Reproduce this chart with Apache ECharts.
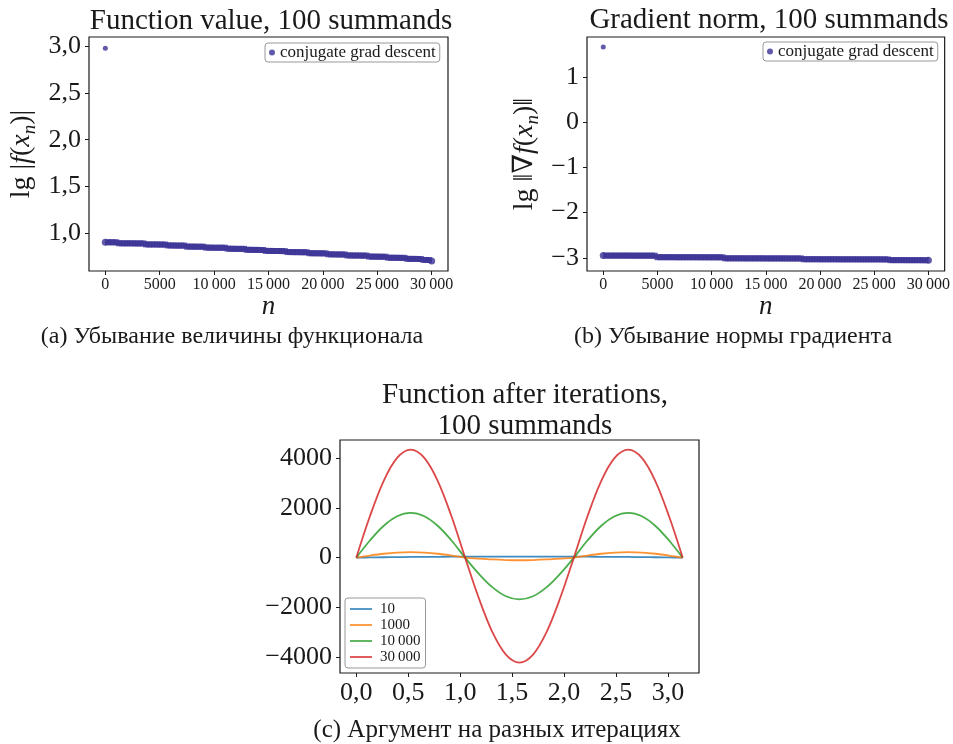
<!DOCTYPE html>
<html><head><meta charset="utf-8">
<script src="https://cdn.jsdelivr.net/npm/echarts@6/dist/echarts.min.js"></script>
<style>html,body{margin:0;padding:0;background:#fff}#c{width:953px;height:744px}</style>
</head><body><div id="c"></div>
<script>
// ---------- data ----------
var seriesName = 'conjugate grad descent';
var bandN = [0,250,500,750,1000,1250,1500,1750,2000,2250,2500,2750,3000,3250,3500,3750,4000,4250,4500,4750,5000,5250,5500,5750,6000,6250,6500,6750,7000,7250,7500,7750,8000,8250,8500,8750,9000,9250,9500,9750,10000,10250,10500,10750,11000,11250,11500,11750,12000,12250,12500,12750,13000,13250,13500,13750,14000,14250,14500,14750,15000,15250,15500,15750,16000,16250,16500,16750,17000,17250,17500,17750,18000,18250,18500,18750,19000,19250,19500,19750,20000,20250,20500,20750,21000,21250,21500,21750,22000,22250,22500,22750,23000,23250,23500,23750,24000,24250,24500,24750,25000,25250,25500,25750,26000,26250,26500,26750,27000,27250,27500,27750,28000,28250,28500,28750,29000,29250,29500,29750,30000];
// (a) lg|f(x_n)|
var funcFirst = 2.975;
var funcBand = [0.907,0.907,0.906,0.906,0.906,0.896,0.895,0.895,0.895,0.895,0.895,0.894,0.894,0.894,0.894,0.884,0.883,0.883,0.883,0.883,0.882,0.882,0.882,0.873,0.872,0.872,0.871,0.871,0.871,0.871,0.860,0.860,0.860,0.859,0.859,0.859,0.859,0.850,0.849,0.849,0.848,0.848,0.848,0.848,0.848,0.838,0.837,0.837,0.836,0.836,0.836,0.836,0.826,0.826,0.825,0.825,0.825,0.824,0.824,0.815,0.814,0.814,0.813,0.813,0.813,0.812,0.812,0.802,0.802,0.801,0.801,0.801,0.800,0.800,0.800,0.790,0.789,0.789,0.789,0.788,0.788,0.788,0.778,0.778,0.777,0.777,0.776,0.776,0.776,0.766,0.766,0.765,0.765,0.765,0.764,0.764,0.764,0.754,0.753,0.753,0.753,0.752,0.752,0.752,0.742,0.741,0.741,0.741,0.740,0.740,0.740,0.730,0.729,0.729,0.729,0.728,0.728,0.718,0.717,0.717,0.707];
// (b) lg||grad f(x_n)||
var gradFirst = 1.66;
var gradBand = [-2.950,-2.950,-2.950,-2.950,-2.950,-2.950,-2.950,-2.950,-2.950,-2.950,-2.951,-2.951,-2.951,-2.951,-2.951,-2.951,-2.951,-2.951,-2.951,-2.952,-2.985,-2.985,-2.985,-2.985,-2.985,-2.985,-2.985,-2.986,-2.986,-2.986,-2.986,-2.986,-2.986,-2.986,-2.986,-2.987,-2.987,-2.987,-2.987,-2.987,-2.987,-2.987,-2.987,-2.988,-2.988,-3.010,-3.010,-3.010,-3.010,-3.010,-3.010,-3.010,-3.011,-3.011,-3.011,-3.011,-3.011,-3.011,-3.011,-3.011,-3.012,-3.012,-3.012,-3.012,-3.012,-3.012,-3.012,-3.012,-3.013,-3.013,-3.013,-3.013,-3.013,-3.013,-3.030,-3.030,-3.030,-3.030,-3.030,-3.030,-3.031,-3.031,-3.031,-3.031,-3.031,-3.031,-3.031,-3.032,-3.032,-3.032,-3.032,-3.032,-3.032,-3.032,-3.033,-3.033,-3.033,-3.033,-3.033,-3.033,-3.033,-3.033,-3.033,-3.034,-3.034,-3.034,-3.050,-3.050,-3.050,-3.050,-3.050,-3.050,-3.051,-3.051,-3.051,-3.051,-3.051,-3.051,-3.052,-3.052,-3.052];
// (c) function after iterations
var argX = [0,0.1309,0.2618,0.3927,0.5236,0.6545,0.7854,0.9163,1.0472,1.1781,1.3090,1.4399,1.5708,1.7017,1.8326,1.9635,2.0944,2.2253,2.3562,2.4871,2.6180,2.7489,2.8798,3.0107,3.1416];
var iterNames = ['10','1000','10\u2009000','30\u2009000'];
var f10    = [0,8,15,21,26,30,33,36,38,39,40,40,40,40,40,39,38,36,33,30,26,21,15,8,0];
var f1000  = [0,84,156,203,220,203,156,84,0,-40,-74,-97,-105,-97,-74,-40,0,84,156,203,220,203,156,84,0];
var f10000 = [0,689,1273,1663,1800,1663,1273,689,0,-643,-1188,-1552,-1680,-1552,-1188,-643,0,689,1273,1663,1800,1663,1273,689,0];
var f30000 = [0,1661,3069,4010,4340,4010,3069,1661,0,-1615,-2984,-3899,-4220,-3899,-2984,-1615,0,1661,3069,4010,4340,4010,3069,1661,0];
var iterColors = ['#1f77b4','#ff7f0e','#2ca02c','#d62728'];
// tick labels
var nTicks = [0,5000,10000,15000,20000,25000,30000];
var funcTicks = [1.0,1.5,2.0,2.5,3.0];
var gradTicks = [-3,-2,-1,0,1];
var argTicks = [0,0.5,1.0,1.5,2.0,2.5,3.0];
var valTicks = [-4000,-2000,0,2000,4000];

// ---------- helpers ----------
var SERIF = "'Liberation Serif', 'DejaVu Serif', serif";
var INK = '#1a1a1a';
function fmtInt(v){
  var s = Math.abs(Math.round(v)).toString();
  if (s.length >= 5) s = s.slice(0, -3) + '\u2009' + s.slice(-3);
  return (v < 0 ? '\u2212' : '') + s;
}
function fmtDec(v){ return (v < 0 ? '\u2212' : '') + Math.abs(v).toFixed(1).replace('.', ','); }
function bandData(first, ns, vs){
  var d = [{value:[0, first], symbol:'circle', symbolSize:5}];
  for (var i = 0; i < ns.length; i++) {
    var it = {value:[ns[i], vs[i]]};
    if (i === 0 || i === ns.length - 1) { it.symbol = 'circle'; it.symbolSize = 7; }
    d.push(it);
  }
  return d;
}
function axisCommon(ticks, fmt, fs, margin){
  return {
    axisLine:{show:false, onZero:false},
    splitLine:{show:false},
    axisTick:{show:true, length:4, lineStyle:{color:INK, width:1}, customValues:ticks},
    axisLabel:{customValues:ticks, formatter:fmt, fontFamily:SERIF, fontSize:fs, color:INK, margin:margin}
  };
}
function merge(a,b){ for (var k in b) a[k]=b[k]; return a; }
var richY = {
  n:{fontFamily:SERIF, fontSize:28, color:INK, lineHeight:35},
  i:{fontFamily:SERIF, fontSize:28, fontStyle:'italic', color:INK, lineHeight:35},
  s:{fontFamily:SERIF, fontSize:19, fontStyle:'italic', color:INK, lineHeight:19, verticalAlign:'bottom'}
};
var titleStyle = {fontFamily:SERIF, fontSize:29, fontWeight:'normal', color:INK, lineHeight:31};
var capStyle = {fontFamily:SERIF, fontSize:24, fontWeight:'normal', color:INK};

var chart = echarts.init(document.getElementById('c'), null, {renderer:'canvas'});
var option = {
  backgroundColor:'#fff',
  animation:false,
  title:[
    {text:'Function value, 100 summands', left:266, top:1, textAlign:'center', textStyle:titleStyle},
    {text:'Gradient norm, 100 summands', left:764, top:0, textAlign:'center', textStyle:titleStyle},
    {text:'Function after iterations,\n100 summands', left:520, top:375, textAlign:'center', textStyle:titleStyle},
    {text:'(a) Убывание величины функционала', left:227, top:320, textAlign:'center', textStyle:capStyle},
    {text:'(b) Убывание нормы градиента', left:728, top:320, textAlign:'center', textStyle:capStyle},
    {text:'(c) Аргумент на разных итерациях', left:492, top:713, textAlign:'center', textStyle:merge(merge({}, capStyle), {fontSize:25})}
  ],
  legend:[
    {left:265, top:43, padding:[1,4,1,4], data:[{name:seriesName, icon:'circle'}], itemWidth:6, itemHeight:6,
     borderColor:'#999', borderWidth:1, borderRadius:3, backgroundColor:'#fff',
     textStyle:{fontFamily:SERIF, fontSize:17, color:INK}, selectedMode:false},
    {left:763, top:42, padding:[1,4,1,4], data:[{name:seriesName, icon:'circle'}], itemWidth:6, itemHeight:6,
     borderColor:'#999', borderWidth:1, borderRadius:3, backgroundColor:'#fff',
     textStyle:{fontFamily:SERIF, fontSize:17, color:INK}, selectedMode:false},
    {left:345, top:598, orient:'vertical', padding:[3,5,3,5], data:iterNames, icon:'rect', itemWidth:22, itemHeight:1.5, itemGap:0,
     borderColor:'#999', borderWidth:1, borderRadius:3, backgroundColor:'#fff',
     textStyle:{fontFamily:SERIF, fontSize:15, color:INK, lineHeight:16, padding:[0,0,0,3]}, selectedMode:false}
  ],
  grid:[
    {left:89, top:37, width:359, height:234, show:true, borderColor:INK, borderWidth:1.2, backgroundColor:'transparent'},
    {left:587, top:37, width:359, height:234, show:true, borderColor:INK, borderWidth:1.2, backgroundColor:'transparent'},
    {left:340, top:440, width:359, height:233, show:true, borderColor:INK, borderWidth:1.2, backgroundColor:'transparent'}
  ],
  xAxis:[
    merge({type:'value', gridIndex:0, min:-1500, max:31500, name:'n', nameLocation:'middle', nameGap:20,
      nameTextStyle:{fontFamily:SERIF, fontSize:27, fontStyle:'italic', color:INK}}, axisCommon(nTicks, fmtInt, 16, 6)),
    merge({type:'value', gridIndex:1, min:-1500, max:31500, name:'n', nameLocation:'middle', nameGap:20,
      nameTextStyle:{fontFamily:SERIF, fontSize:27, fontStyle:'italic', color:INK}}, axisCommon(nTicks, fmtInt, 16, 6)),
    merge({type:'value', gridIndex:2, min:-0.157, max:3.299}, axisCommon(argTicks, fmtDec, 26, 7))
  ],
  yAxis:[
    merge({type:'value', gridIndex:0, min:0.6, max:3.095, name:'{n|lg |}{i|f}{n|(}{i|x}{s|n}{n|)|}', nameLocation:'middle', nameGap:50, nameRotate:90,
      nameTextStyle:{rich:richY}}, axisCommon(funcTicks, fmtDec, 26, 8)),
    merge({type:'value', gridIndex:1, min:-3.29, max:1.88, name:'{n|lg \u2016\u2207}{i|f}{n|(}{i|x}{s|n}{n|)\u2016}', nameLocation:'middle', nameGap:45, nameRotate:90,
      nameTextStyle:{rich:richY}}, axisCommon(gradTicks, fmtInt, 26, 8)),
    merge({type:'value', gridIndex:2, min:-4640, max:4730}, axisCommon(valTicks, fmtInt, 26, 8))
  ],
  series:[
    {type:'scatter', name:seriesName, xAxisIndex:0, yAxisIndex:0, symbol:'rect', symbolSize:[6,6],
     itemStyle:{color:'#3a3195'}, data:bandData(funcFirst, bandN, funcBand)},
    {type:'scatter', name:seriesName, xAxisIndex:1, yAxisIndex:1, symbol:'rect', symbolSize:[6,6],
     itemStyle:{color:'#3a3195'}, data:bandData(gradFirst, bandN, gradBand)}
  ]
};
var fvals = [f10, f1000, f10000, f30000];
for (var k = 0; k < 4; k++) {
  var d = [];
  for (var j = 0; j < argX.length; j++) d.push([argX[j], fvals[k][j]]);
  option.series.push({type:'line', name:iterNames[k], xAxisIndex:2, yAxisIndex:2, smooth:0.35, showSymbol:false,
    color:iterColors[k], lineStyle:{width:1.8, opacity:0.85, color:iterColors[k]}, itemStyle:{color:iterColors[k]}, data:d, z:2+k});
}
chart.setOption(option);
</script>
</body></html>
